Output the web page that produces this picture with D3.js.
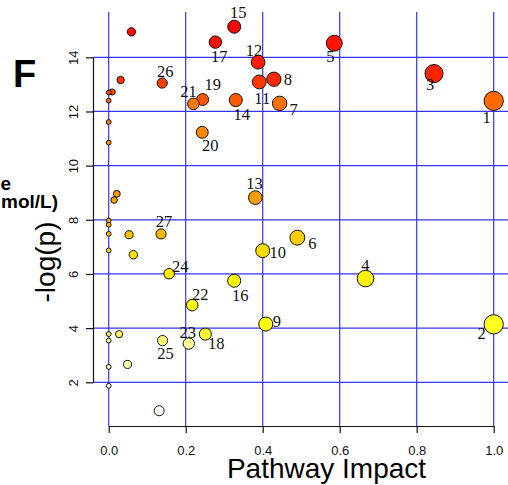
<!DOCTYPE html>
<html>
<head>
<meta charset="utf-8">
<script src="https://cdn.jsdelivr.net/npm/d3@7"></script>
<style>
  body { margin: 0; background: white; }
  svg { display: block; }
</style>
</head>
<body>
<div id="container"></div>
<script>

// pathway numbers (blank = unlabelled pathway)
let pathLabels = ["1","2","3","4","5","6","7","8","9","10","11","12","13","14","15",
  "16","17","18","19","20","21","22","23","24","25","26","27",
  "","","","","","","","","","","","","","","","","","","","","",""];

// pathway impact (x)
let impact = [1.0, 1.0, 0.845, 0.667, 0.586, 0.490, 0.444, 0.429, 0.408, 0.400,
  0.391, 0.388, 0.381, 0.330, 0.326, 0.326, 0.277, 0.251, 0.244, 0.243,
  0.220, 0.217, 0.208, 0.157, 0.140, 0.139, 0.136,
  0.059, 0.031, 0.009, 0, 0, 0, 0, 0.021, 0.014, 0, 0, 0, 0.053, 0, 0.064,
  0, 0.027, 0, 0, 0.049, 0, 0.131];

// -log(p) (y)
let negLogP = [12.39, 4.14, 13.40, 5.83, 14.52, 7.34, 12.30, 13.19, 4.15, 6.86,
  13.09, 13.82, 8.82, 12.42, 15.13, 5.75, 14.56, 3.78, 12.44, 11.23,
  12.28, 4.85, 3.43, 6.01, 3.54, 13.05, 7.48,
  14.94, 13.16, 12.72, 12.70, 12.40, 11.61, 10.85, 8.96, 8.73, 7.97, 7.82, 7.48, 7.45, 6.87, 6.71,
  3.78, 3.78, 3.54, 2.57, 2.66, 1.87, 0.95];

let xTicks = [0, 0.2, 0.4, 0.6, 0.8, 1.0];
let yTicks = [2, 4, 6, 8, 10, 12, 14];

// where each number sits next to its circle (pixels)
let labelNudge = {
  "1": [-7, 16], "2": [-12, 9], "3": [-4, 11], "4": [0, -13], "5": [-4, 13],
  "6": [15, 6], "7": [14, 6], "8": [14, 0], "9": [11, -3], "10": [15, 2],
  "11": [3, 16], "12": [-4, -12], "13": [-1, -14], "14": [6, 14], "15": [4, -14],
  "16": [6, 15], "17": [4, 14], "18": [11, 9], "19": [10, -15], "20": [8, 13],
  "21": [-5, -12], "22": [8, -11], "23": [-1, -11], "24": [11, -7], "25": [3, 13],
  "26": [3, -12], "27": [3, -12]
};

let w = 508;
let h = 485;
let sans = "'Liberation Sans', Arial, sans-serif";
let serif = "'Liberation Serif', 'Times New Roman', serif";

let viz = d3.select("#container")
  .append("svg")
    .attr("width", w)
    .attr("height", h)
    .style("background", "white")
;

let xScale = d3.scaleLinear().domain([0, 1]).range([108.7, 493.7]);
let yScale = d3.scaleLinear().domain([2, 14]).range([382.3, 57.3]);

let plotLeft = 93, plotTop = 12, plotBottom = 426;

// R style heat.colors(n)
function heatColors(n){
  let j = Math.floor(n / 4);
  let i = n - j;
  let cols = [];
  for (let k = 0; k < i; k++){
    let g = Math.round(255 * (i > 1 ? k / (i - 1) : 0));
    cols.push(d3.rgb(255, g, 0).formatHex());
  }
  for (let k = 0; k < j; k++){
    let s = j > 1 ? (1 - 1 / (2 * j)) - k * ((1 - 1 / j) / (j - 1)) : 0.5;
    cols.push(d3.rgb(255, 255, Math.round(255 * (1 - s))).formatHex());
  }
  return cols;
}

let data = pathLabels.map(function(l, i){
  return { label: l, impact: impact[i], logp: negLogP[i] };
});
// sorted by p so the colour follows the rank, like the original
data.sort(function(a, b){ return b.logp - a.logp; });
let colours = heatColors(data.length);
data.forEach(function(d, i){ d.colour = colours[i]; });

// circle size from sqrt(impact), radius in x units
let minR = 1 / 160, maxR = 1 / 40;
function radius(d){
  let r = minR + (maxR - minR) * Math.sqrt(d.impact);
  return xScale(r) - xScale(0);
}

// grid
viz.append("g").selectAll("line").data(xTicks).enter()
  .append("line")
    .attr("x1", d => xScale(d)).attr("x2", d => xScale(d))
    .attr("y1", plotTop).attr("y2", plotBottom)
    .attr("stroke", "#3535f2").attr("stroke-width", 1.2)
;
viz.append("g").selectAll("line").data(yTicks).enter()
  .append("line")
    .attr("x1", plotLeft).attr("x2", w)
    .attr("y1", d => yScale(d)).attr("y2", d => yScale(d))
    .attr("stroke", "#3535f2").attr("stroke-width", 1.2)
;

// axes
let xAxis = d3.axisBottom(xScale).tickValues(xTicks).tickFormat(d3.format(".1f"))
  .tickSize(7).tickSizeOuter(0).tickPadding(13);
let xAxisGroup = viz.append("g")
    .attr("transform", "translate(0," + plotBottom + ")")
    .call(xAxis);
xAxisGroup.selectAll("text").style("font-family", sans).style("font-size", "13px").attr("fill", "#111");

let yAxis = d3.axisLeft(yScale).tickValues(yTicks).tickSize(7).tickSizeOuter(0);
let yAxisGroup = viz.append("g")
    .attr("transform", "translate(" + plotLeft + ",0)")
    .call(yAxis);
yAxisGroup.selectAll("text")
    .attr("x", 0).attr("dy", 0)
    .attr("text-anchor", "middle")
    .attr("transform", "translate(-15,0) rotate(-90)")
    .style("font-family", sans).style("font-size", "13px").attr("fill", "#111");
viz.selectAll(".domain, .tick line").attr("stroke", "#111").attr("stroke-width", 1.2);

// circles
viz.append("g").selectAll("circle").data(data).enter()
  .append("circle")
    .attr("cx", d => xScale(d.impact))
    .attr("cy", d => yScale(d.logp))
    .attr("r", radius)
    .attr("fill", d => d.colour)
    .attr("stroke", "#111")
    .attr("stroke-width", 1)
;

// numbers
viz.append("g").selectAll("text").data(data.filter(d => d.label != "")).enter()
  .append("text")
    .attr("x", d => xScale(d.impact) + labelNudge[d.label][0])
    .attr("y", d => yScale(d.logp) + labelNudge[d.label][1])
    .attr("dy", "0.34em")
    .attr("text-anchor", "middle")
    .style("font-family", serif)
    .style("font-size", "16.5px")
    .attr("fill", "#111")
    .text(d => d.label)
;

// titles
viz.append("text")
    .attr("x", 326.5).attr("y", 478)
    .attr("text-anchor", "middle")
    .style("font-family", sans).style("font-size", "28px")
    .text("Pathway Impact");

viz.append("text")
    .attr("transform", "translate(55,262) rotate(-90)")
    .attr("text-anchor", "middle")
    .style("font-family", sans).style("font-size", "28px")
    .text("-log(p)");

viz.append("text")
    .attr("x", 13).attr("y", 87)
    .style("font-family", sans).style("font-size", "38px").style("font-weight", "bold")
    .text("F");

// bits of the neighbouring panel's legend
viz.append("text")
    .attr("x", 11).attr("y", 190).attr("text-anchor", "end")
    .style("font-family", sans).style("font-size", "19px").style("font-weight", "bold")
    .text("e");
viz.append("text")
    .attr("x", 58).attr("y", 208).attr("text-anchor", "end")
    .style("font-family", sans).style("font-size", "19px").style("font-weight", "bold")
    .text("mol/L)");

</script>
</body>
</html>
